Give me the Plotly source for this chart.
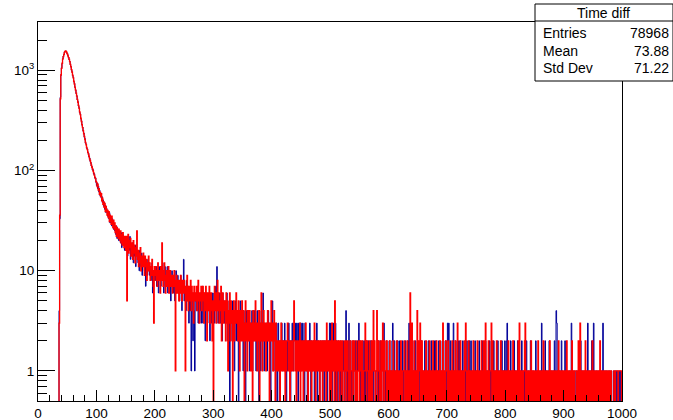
import plotly.graph_objects as go

# ---------------- data (counts per 1-unit bin, 0..1000) ----------------
n_bins = 1000
first_bin = 36  # bins 0..35 are empty

red_36_99 = [3, 36, 520, 905, 1046, 1178, 1295, 1372, 1448, 1512,
             1549, 1566, 1537, 1496, 1452, 1398, 1341, 1287, 1221, 1150,
             1084, 1019, 958, 897, 841, 779, 731, 682, 634, 592,
             553, 514, 481, 447, 418, 386, 361, 333, 309, 287,
             268, 251, 233, 219, 204, 191, 181, 170, 162, 153,
             146, 139, 131, 126, 119, 113, 108, 104, 99, 95,
             90, 86, 83, 78]
blue_36_99 = [4, 33, 540, 890, 1061, 1169, 1302, 1389, 1437, 1525,
              1541, 1559, 1548, 1483, 1461, 1389, 1352, 1276, 1230, 1141,
              1093, 1008, 966, 889, 850, 771, 739, 675, 641, 585,
              560, 507, 488, 441, 424, 380, 366, 328, 314, 283,
              272, 246, 238, 214, 209, 187, 184, 167, 165, 150,
              149, 136, 134, 123, 121, 111, 110, 101, 102, 92,
              93, 84, 85, 76]

red_100_199 = [76, 69, 73, 64, 66, 58, 61, 55, 59, 50,
               53, 46, 49, 43, 47, 39, 44, 41, 36, 40,
               34, 39, 31, 36, 33, 29, 35, 30, 27, 32,
               26, 30, 24, 28, 22, 27, 25, 21, 26, 23,
               20, 25, 19, 23, 18, 24, 21, 17, 22, 20,
               16, 22, 5, 19, 23, 15, 20, 17, 21, 14,
               19, 16, 13, 20, 15, 18, 12, 17, 14, 25,
               13, 16, 11, 15, 12, 17, 10, 14, 13, 11,
               15, 12, 9, 14, 11, 13, 8, 12, 10, 14,
               10, 12, 8, 11, 9, 13, 10, 7, 3, 11]
blue_100_199 = [71, 75, 66, 70, 61, 64, 56, 60, 53, 55,
                48, 51, 44, 48, 41, 45, 38, 42, 39, 35,
                37, 33, 38, 30, 34, 31, 28, 33, 29, 26,
                29, 25, 27, 23, 28, 21, 24, 26, 20, 24,
                22, 19, 24, 17, 21, 23, 18, 20, 16, 21,
                19, 17, 21, 14, 18, 20, 16, 22, 13, 18,
                15, 17, 19, 12, 16, 14, 18, 11, 15, 16,
                14, 12, 15, 10, 16, 13, 11, 15, 9, 12,
                11, 14, 10, 13, 7, 12, 11, 9, 13, 10,
                12, 9, 11, 8, 10, 12, 6, 10, 9, 8]

red_200_299 = [9, 11, 8, 10, 7, 12, 9, 8, 10, 6,
               11, 8, 19, 9, 7, 10, 12, 8, 6, 9,
               10, 7, 9, 11, 6, 8, 10, 7, 9, 8,
               6, 9, 7, 10, 8, 1, 7, 9, 6, 8,
               7, 5, 8, 6, 9, 7, 5, 8, 6, 7,
               8, 6, 1, 7, 5, 9, 6, 4, 7, 5,
               6, 8, 4, 7, 5, 6, 3, 7, 5, 6,
               5, 7, 4, 6, 8, 5, 3, 6, 5, 7,
               4, 6, 7, 5, 3, 6, 4, 7, 5, 2,
               6, 4, 5, 7, 3, 5, 6, 4, 2, 5]
blue_200_299 = [10, 8, 11, 7, 9, 10, 6, 11, 8, 9,
                7, 10, 9, 12, 8, 6, 9, 11, 7, 8,
                9, 11, 6, 8, 10, 7, 9, 5, 8, 10,
                8, 6, 9, 7, 5, 8, 10, 6, 7, 9,
                6, 8, 5, 7, 9, 6, 4, 7, 8, 13,
                5, 7, 6, 4, 8, 6, 5, 7, 3, 6,
                4, 7, 1, 5, 6, 2, 6, 4, 1, 5,
                6, 4, 5, 7, 3, 6, 5, 4, 6, 3,
                5, 7, 3, 5, 4, 6, 2, 5, 4, 6,
                3, 5, 4, 6, 2, 4, 5, 3, 6, 4]

red_300_399 = [0, 5, 7, 4, 6, 3, 5, 8, 4, 6,
               3, 5, 4, 7, 2, 5, 6, 3, 4, 5,
               4, 2, 6, 3, 5, 1, 4, 3, 6, 2,
               5, 3, 4, 0, 3, 5, 2, 4, 3, 6,
               3, 4, 2, 5, 3, 1, 4, 3, 2, 5,
               2, 4, 3, 0, 3, 5, 2, 3, 1, 4,
               3, 2, 4, 3, 1, 3, 2, 0, 4, 3,
               2, 3, 5, 2, 3, 1, 3, 2, 4, 0,
               3, 2, 6, 3, 1, 2, 4, 3, 2, 3,
               1, 3, 2, 4, 2, 3, 0, 2, 3, 5]
blue_300_399 = [4, 6, 3, 5, 7, 4, 11, 5, 3, 6,
                4, 6, 3, 5, 4, 2, 6, 4, 5, 3,
                5, 3, 4, 6, 2, 4, 3, 5, 0, 4,
                3, 4, 2, 5, 3, 4, 1, 3, 5, 2,
                4, 2, 3, 0, 4, 3, 5, 2, 3, 4,
                3, 1, 4, 3, 2, 0, 3, 4, 2, 3,
                2, 4, 1, 3, 3, 2, 4, 1, 3, 2,
                4, 2, 3, 1, 3, 4, 2, 3, 0, 2,
                3, 1, 4, 2, 3, 6, 2, 1, 3, 2,
                2, 3, 1, 3, 4, 2, 3, 2, 0, 3]

red_400_499 = [2, 3, 1, 2, 4, 2, 0, 3, 2, 1,
               2, 2, 1, 2, 0, 2, 3, 1, 2, 2,
               1, 2, 2, 0, 2, 1, 2, 3, 2, 1,
               2, 0, 2, 1, 2, 2, 1, 2, 5, 2,
               1, 2, 0, 2, 1, 2, 2, 1, 3, 0,
               2, 1, 2, 2, 0, 1, 2, 1, 3, 2,
               1, 2, 0, 2, 2, 1, 2, 1, 0, 2,
               2, 1, 2, 3, 1, 0, 2, 2, 1, 2,
               1, 2, 0, 1, 2, 2, 1, 0, 2, 1,
               2, 1, 2, 0, 3, 1, 2, 1, 2, 0]
blue_400_499 = [3, 5, 2, 1, 3, 2, 1, 2, 3, 0,
                1, 3, 2, 0, 2, 1, 2, 3, 1, 2,
                2, 1, 3, 2, 1, 0, 2, 1, 2, 3,
                1, 2, 0, 2, 1, 3, 2, 1, 3, 3,
                2, 3, 1, 3, 2, 0, 3, 2, 1, 3,
                3, 1, 2, 3, 1, 2, 0, 3, 2, 1,
                2, 0, 1, 2, 1, 3, 2, 0, 2, 1,
                1, 2, 2, 0, 1, 2, 1, 3, 0, 2,
                2, 1, 0, 2, 1, 1, 2, 0, 1, 2,
                0, 2, 1, 1, 2, 0, 1, 2, 1, 3]

red_500_599 = [1, 2, 0, 3, 1, 2, 1, 0, 5, 2,
               1, 0, 2, 1, 1, 2, 0, 1, 2, 1,
               0, 2, 1, 1, 0, 2, 1, 2, 0, 1,
               2, 1, 0, 1, 2, 0, 1, 1, 2, 0,
               1, 2, 1, 0, 1, 2, 0, 1, 1, 2,
               0, 1, 2, 1, 0, 2, 1, 0, 1, 1,
               3, 1, 0, 2, 1, 1, 0, 2, 1, 0,
               1, 2, 0, 1, 4, 1, 2, 0, 1, 1,
               4, 0, 1, 2, 1, 0, 1, 2, 0, 1,
               3, 1, 0, 2, 1, 1, 0, 2, 1, 0]
blue_500_599 = [2, 3, 1, 0, 2, 3, 1, 2, 0, 3,
                0, 2, 1, 0, 2, 1, 1, 0, 2, 1,
                1, 0, 2, 1, 1, 0, 1, 4, 2, 0,
                1, 0, 3, 1, 0, 2, 1, 0, 1, 2,
                0, 1, 1, 2, 0, 1, 0, 2, 1, 3,
                1, 2, 0, 1, 1, 0, 2, 1, 0, 2,
                0, 1, 2, 0, 1, 2, 1, 0, 1, 2,
                2, 0, 1, 1, 0, 2, 1, 1, 0, 1,
                1, 1, 0, 2, 0, 1, 2, 0, 1, 2,
                1, 0, 3, 1, 1, 0, 2, 1, 0, 1]

red_600_699 = [1, 0, 2, 1, 0, 1, 1, 0, 2, 1,
               0, 1, 1, 0, 2, 1, 0, 1, 1, 0,
               1, 2, 0, 1, 0, 1, 1, 2, 0, 1,
               0, 1, 2, 0, 1, 1, 0, 6, 1, 0,
               3, 1, 0, 1, 2, 0, 1, 1, 0, 4,
               1, 0, 2, 1, 3, 0, 1, 2, 0, 1,
               1, 0, 1, 0, 2, 1, 0, 1, 1, 0,
               2, 1, 0, 1, 1, 0, 2, 1, 0, 1,
               0, 1, 2, 0, 1, 1, 0, 1, 2, 0,
               1, 0, 1, 3, 0, 1, 1, 0, 2, 1]
blue_600_699 = [0, 2, 1, 1, 0, 1, 2, 3, 0, 1,
                2, 0, 1, 1, 0, 2, 0, 1, 2, 1,
                0, 1, 1, 0, 2, 1, 0, 1, 1, 2,
                1, 0, 1, 2, 0, 3, 1, 0, 1, 1,
                0, 2, 1, 0, 1, 1, 2, 0, 1, 0,
                2, 1, 0, 1, 1, 0, 2, 1, 0, 1,
                0, 1, 2, 1, 0, 1, 1, 0, 2, 1,
                1, 0, 1, 2, 0, 1, 0, 1, 1, 2,
                1, 2, 0, 1, 1, 0, 2, 1, 0, 1,
                0, 1, 2, 0, 1, 1, 0, 2, 1, 0]

red_700_799 = [1, 0, 2, 1, 0, 1, 1, 0, 1, 2,
               0, 1, 1, 0, 2, 1, 0, 1, 3, 0,
               1, 1, 0, 2, 0, 1, 1, 0, 1, 0,
               2, 1, 3, 0, 1, 1, 0, 2, 1, 0,
               1, 0, 1, 1, 0, 2, 1, 0, 1, 1,
               0, 1, 2, 0, 1, 0, 1, 1, 0, 2,
               1, 0, 1, 2, 0, 1, 3, 0, 1, 1,
               0, 2, 1, 0, 1, 1, 3, 0, 2, 1,
               0, 1, 1, 0, 1, 2, 0, 1, 0, 1,
               1, 0, 2, 1, 0, 1, 1, 0, 1, 0]
blue_700_799 = [2, 3, 1, 3, 0, 1, 2, 0, 1, 1,
                1, 3, 0, 1, 1, 2, 0, 1, 0, 2,
                0, 1, 2, 1, 0, 1, 0, 2, 1, 1,
                1, 0, 1, 1, 2, 0, 1, 0, 2, 1,
                0, 2, 1, 0, 1, 1, 0, 1, 2, 0,
                1, 1, 0, 1, 0, 2, 1, 0, 1, 1,
                2, 1, 0, 1, 1, 0, 2, 1, 0, 1,
                1, 0, 1, 2, 0, 1, 0, 1, 1, 0,
                2, 0, 1, 1, 0, 1, 1, 2, 0, 1,
                0, 1, 1, 0, 2, 0, 1, 1, 0, 2]

red_800_899 = [1, 0, 1, 1, 0, 2, 1, 0, 1, 0,
               1, 1, 0, 2, 1, 0, 1, 0, 1, 1,
               0, 1, 2, 0, 3, 1, 0, 1, 1, 0,
               1, 0, 1, 2, 3, 0, 1, 1, 0, 1,
               0, 1, 1, 0, 2, 1, 0, 1, 0, 1,
               1, 0, 1, 1, 0, 1, 2, 0, 1, 0,
               1, 1, 0, 1, 0, 2, 1, 0, 1, 1,
               0, 1, 0, 1, 1, 0, 2, 1, 0, 1,
               1, 0, 1, 0, 1, 1, 0, 1, 0, 1,
               0, 2, 1, 0, 1, 0, 1, 1, 0, 1]
blue_800_899 = [0, 1, 2, 3, 1, 0, 1, 1, 0, 2,
                1, 0, 1, 0, 1, 2, 0, 1, 1, 0,
                1, 2, 0, 1, 0, 1, 1, 0, 2, 1,
                0, 1, 1, 0, 1, 0, 2, 1, 0, 1,
                1, 0, 1, 2, 0, 1, 1, 0, 1, 0,
                0, 1, 2, 0, 1, 1, 0, 1, 0, 1,
                1, 0, 3, 1, 0, 1, 1, 0, 2, 0,
                1, 1, 0, 1, 0, 2, 1, 0, 1, 1,
                0, 1, 1, 0, 2, 1, 0, 4, 3, 1,
                1, 0, 1, 1, 0, 1, 2, 0, 1, 0]

red_900_999 = [1, 0, 1, 1, 0, 2, 0, 1, 1, 0,
               1, 0, 1, 0, 2, 1, 0, 1, 0, 1,
               1, 1, 0, 1, 0, 2, 1, 0, 3, 1,
               0, 1, 1, 0, 1, 0, 1, 2, 0, 1,
               1, 0, 1, 0, 1, 1, 0, 1, 0, 2,
               0, 1, 1, 0, 1, 0, 1, 1, 0, 1,
               1, 0, 2, 1, 0, 1, 0, 1, 1, 0,
               1, 0, 1, 1, 0, 1, 1, 0, 1, 0,
               1, 1, 0, 0, 0, 0, 1, 1, 0, 1,
               1, 1, 1, 0, 1, 1, 1, 1, 1, 0]
blue_900_999 = [0, 1, 2, 0, 1, 1, 0, 1, 0, 1,
                1, 0, 1, 3, 0, 1, 1, 0, 1, 0,
                0, 1, 1, 0, 1, 0, 1, 1, 0, 2,
                1, 0, 1, 1, 0, 1, 0, 1, 1, 0,
                1, 3, 0, 1, 1, 0, 1, 0, 2, 0,
                1, 3, 0, 1, 0, 1, 1, 0, 1, 1,
                0, 1, 1, 0, 1, 0, 1, 3, 0, 1,
                0, 1, 0, 1, 1, 0, 1, 0, 1, 1,
                0, 1, 0, 0, 0, 1, 0, 1, 1, 0,
                1, 0, 1, 1, 0, 1, 0, 1, 0, 0]

x_tick_vals = [0, 100, 200, 300, 400, 500, 600, 700, 800, 900, 1000]
y_tick_vals = [1, 10, 100, 1000]
y_tick_text = ["1", "10", "10<sup>2</sup>", "10<sup>3</sup>"]

stats_title = "Time diff"
stats_labels = ["Entries", "Mean", "Std Dev"]
stats_values = ["78968", "73.88", "71.22"]

# ---------------- assemble ----------------
red_segments = [red_36_99, red_100_199, red_200_299, red_300_399, red_400_499,
                red_500_599, red_600_699, red_700_799, red_800_899, red_900_999]
blue_segments = [blue_36_99, blue_100_199, blue_200_299, blue_300_399, blue_400_499,
                 blue_500_599, blue_600_699, blue_700_799, blue_800_899, blue_900_999]
for seg in red_segments[1:] + blue_segments[1:]:
    assert len(seg) == 100, len(seg)
assert len(red_36_99) == 64 and len(blue_36_99) == 64

red_counts = [0] * first_bin + [v for s in red_segments for v in s]
blue_counts = [0] * first_bin + [v for s in blue_segments for v in s]
assert len(red_counts) == n_bins and len(blue_counts) == n_bins

edges = list(range(n_bins + 1))
FLOOR = 0.02  # empty bins drop below the visible log range


def step_y(counts):
    ys = [c if c > 0 else FLOOR for c in counts]
    return ys + [ys[-1]]


fig = go.Figure()
fig.add_trace(go.Scatter(x=edges, y=step_y(blue_counts), mode="lines",
                         line=dict(color="#000099", width=1, shape="hv"),
                         xaxis="x", yaxis="y", hoverinfo="skip"))
fig.add_trace(go.Scatter(x=edges, y=step_y(red_counts), mode="lines",
                         line=dict(color="#ff0000", width=1.3, shape="hv"),
                         xaxis="x", yaxis="y2", hoverinfo="skip"))

W, H = 673, 420
ML, MR, MT, MB = 38, 51, 22, 19
PW, PH = W - ML - MR, H - MT - MB


def px2x(px):
    return (px - ML) / PW


def px2y(py):
    return 1 - (py - MT) / PH


FONT = "Liberation Sans, Arial, Helvetica, sans-serif"
y_range = [-0.3, 3.483]
minor_vals = [m * 10 ** d for d in range(-1, 4) for m in range(2, 10)
              if 10 ** y_range[0] <= m * 10 ** d <= 10 ** y_range[1]]

fig.update_layout(
    width=W, height=H,
    margin=dict(l=ML, r=MR, t=MT, b=MB, pad=0, autoexpand=False),
    paper_bgcolor="white", plot_bgcolor="white",
    showlegend=False,
    xaxis=dict(range=[0, 1000], tickvals=x_tick_vals, ticks="inside", ticklen=11,
               tickwidth=1, tickcolor="black", showline=True, linecolor="black",
               linewidth=1, mirror=True, showgrid=False, zeroline=False,
               automargin=False,
               tickfont=dict(family=FONT, size=13.5, color="black"),
               minor=dict(ticks="inside", ticklen=6, dtick=20, tick0=0,
                          tickcolor="black", showgrid=False)),
    yaxis=dict(type="log", range=y_range, tickvals=y_tick_vals, ticktext=y_tick_text,
               ticks="inside", ticklen=17, tickwidth=1, tickcolor="black",
               showline=True, linecolor="black", linewidth=1, mirror=True,
               showgrid=False, zeroline=False, automargin=False,
               tickfont=dict(family=FONT, size=13.5, color="black")),
    yaxis2=dict(type="log", range=y_range, overlaying="y", anchor="x", side="left",
                tickvals=minor_vals, ticks="inside", ticklen=9, tickwidth=1,
                tickcolor="black", showticklabels=False, showline=False,
                showgrid=False, zeroline=False, automargin=False),
)

# stats box
box_l, box_r, box_t, box_b, box_sep = 535, 673, 4, 81, 21
fig.add_shape(type="rect", xref="paper", yref="paper",
              x0=px2x(box_l), x1=px2x(box_r), y0=px2y(box_b), y1=px2y(box_t),
              line=dict(color="black", width=1), fillcolor="white", layer="above")
fig.add_shape(type="line", xref="paper", yref="paper",
              x0=px2x(box_l), x1=px2x(box_r), y0=px2y(box_sep), y1=px2y(box_sep),
              line=dict(color="black", width=1), layer="above")
fig.add_annotation(xref="paper", yref="paper", x=px2x(603), y=px2y(12.5),
                   text=stats_title, showarrow=False, xanchor="center", yanchor="middle",
                   font=dict(family=FONT, size=14, color="black"))
row_y = [33, 50.5, 68]
for lab, val, ry in zip(stats_labels, stats_values, row_y):
    fig.add_annotation(xref="paper", yref="paper", x=px2x(541), y=px2y(ry),
                       text=lab, showarrow=False, xanchor="left", yanchor="middle",
                       font=dict(family=FONT, size=14, color="black"))
    fig.add_annotation(xref="paper", yref="paper", x=px2x(671), y=px2y(ry),
                       text=val, showarrow=False, xanchor="right", yanchor="middle",
                       font=dict(family=FONT, size=14, color="black"))

fig.write_html("out.html",
               config={"displayModeBar": False},
               post_script="document.body.style.margin='0px';"
                           "document.body.style.padding='0px';"
                           "document.body.style.overflow='hidden';")
